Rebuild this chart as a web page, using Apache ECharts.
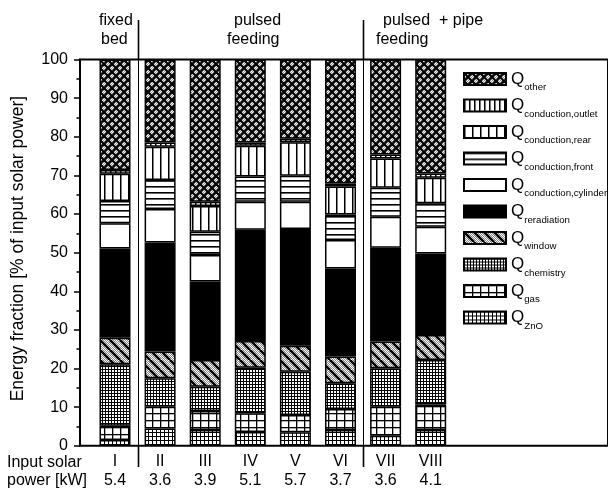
<!DOCTYPE html>
<html><head><meta charset="utf-8">
<script src="https://cdn.jsdelivr.net/npm/echarts@6/dist/echarts.min.js"></script>
<style>html,body{margin:0;padding:0;background:#fff}#c{width:608px;height:490px}</style>
</head><body><div id="c"></div><script>
// ---- data ----
const runs = ['I','II','III','IV','V','VI','VII','VIII'];
const solarPower = ['5.4','3.6','3.9','5.1','5.7','3.7','3.6','4.1'];
const seriesNames = ['ZnO','gas','chemistry','window','reradiation','conduction,cylinder','conduction,front','conduction,rear','conduction,outlet','other'];
const qZnO          = [1.5, 4.5, 4.1, 3.6, 3.5, 4.1, 2.6, 4.1];
const qGas          = [3.7, 5.6, 4.9, 4.8, 4.5, 5.4, 7.5, 6.6];
const qChemistry    = [15.9, 7.4, 6.3, 11.8, 11.2, 6.7, 10.0, 11.5];
const qWindow       = [6.9, 6.9, 6.9, 6.9, 6.7, 6.9, 6.9, 6.5];
const qReradiation  = [23.1, 28.2, 20.3, 28.8, 30.2, 22.8, 24.3, 21.1];
const qCondCylinder = [6.5, 8.7, 6.9, 7.3, 7.1, 7.4, 8.0, 6.9];
const qCondFront    = [5.8, 7.5, 6.0, 6.5, 6.7, 6.6, 7.5, 6.1];
const qCondRear     = [7.0, 8.6, 6.7, 8.0, 8.7, 7.2, 7.6, 6.6];
const qCondOutlet   = [1.0, 1.1, 1.1, 0.8, 0.9, 0.8, 1.0, 1.1];
const qOther        = [28.6, 21.5, 36.8, 21.5, 20.5, 32.1, 24.6, 29.5];
const seriesValues = [qZnO,qGas,qChemistry,qWindow,qReradiation,qCondCylinder,qCondFront,qCondRear,qCondOutlet,qOther];
const yMin = 0, yMax = 100, yStep = 10;
const groupBoundaries = [1, 6]; // first run index of a new group

// ---- patterns ----
function pat(w, h, draw) {
  const c = document.createElement('canvas');
  c.width = w; c.height = h;
  const g = c.getContext('2d');
  g.fillStyle = '#fff'; g.fillRect(0, 0, w, h);
  draw(g, w, h);
  return { image: c, repeat: 'repeat' };
}
function dots(g, w, h, a, b) {
  for (let x = 0; x < w; x++) for (let y = 0; y < h; y++) {
    g.fillStyle = ((x + y) % 2 === 0) ? a : b; g.fillRect(x, y, 1, 1);
  }
}
const patterns = [
  pat(4, 4, (g) => { g.fillStyle = '#000'; g.fillRect(0, 0, 4, 1); g.fillRect(0, 0, 1, 4); }),
  pat(8, 7, (g) => { g.fillStyle = '#000'; g.fillRect(0, 0, 8, 1.3); g.fillRect(0, 0, 1.3, 7); }),
  pat(3, 3, (g) => { g.fillStyle = '#000'; g.fillRect(0, 0, 3, 1); g.fillRect(0, 0, 1, 3); }),
  pat(10, 10, (g, w, h) => {
    dots(g, w, h, '#fff', '#888');
    g.strokeStyle = '#000'; g.lineWidth = 2.6;
    for (const o of [-10, 0, 10]) { g.beginPath(); g.moveTo(o, 0); g.lineTo(o + 10, 10); g.stroke(); }
  }),
  '#000',
  '#fff',
  pat(2, 6, (g) => { g.fillStyle = '#000'; g.fillRect(0, 0, 2, 1.6); }),
  pat(8, 2, (g) => { g.fillStyle = '#000'; g.fillRect(0, 0, 1.5, 2); }),
  pat(5, 2, (g) => { g.fillStyle = '#000'; g.fillRect(0, 0, 1.5, 2); }),
  pat(8, 8, (g, w, h) => {
    dots(g, w, h, '#fff', '#999');
    g.strokeStyle = '#000'; g.lineWidth = 2.2;
    for (const o of [-8, 0, 8]) {
      g.beginPath(); g.moveTo(o, 0); g.lineTo(o + 8, 8); g.stroke();
      g.beginPath(); g.moveTo(o + 8, 0); g.lineTo(o, 8); g.stroke();
    }
  })
];

const FONT = '"Liberation Sans", Arial, Helvetica, sans-serif';
const BAND = 45.1;
const GRID_TOP = 59.5, GRID_BOTTOM = 44.2;

const texts = [
  { type: 'text', left: 99, top: 13, style: { text: 'fixed', font: '16px ' + FONT, fill: '#000' } },
  { type: 'text', left: 101, top: 32, style: { text: 'bed', font: '16px ' + FONT, fill: '#000' } },
  { type: 'text', left: 234, top: 13, style: { text: 'pulsed', font: '16px ' + FONT, fill: '#000' } },
  { type: 'text', left: 227, top: 32, style: { text: 'feeding', font: '16px ' + FONT, fill: '#000' } },
  { type: 'text', left: 383, top: 13, style: { text: 'pulsed  + pipe', font: '16px ' + FONT, fill: '#000' } },
  { type: 'text', left: 376, top: 32, style: { text: 'feeding', font: '16px ' + FONT, fill: '#000' } },
  { type: 'text', left: 7, top: 455, style: { text: 'Input solar', font: '16px ' + FONT, fill: '#000' } },
  { type: 'text', left: 7, top: 473, style: { text: 'power [kW]', font: '16px ' + FONT, fill: '#000' } }
];

const chart = echarts.init(document.getElementById('c'), null, { renderer: 'canvas' });
const option = {
  animation: false,
  textStyle: { fontFamily: FONT, color: '#000' },
  grid: [
    { left: 80, right: -10, top: GRID_TOP, bottom: GRID_BOTTOM, show: true, borderColor: '#000', borderWidth: 2, backgroundColor: 'transparent' },
    { left: 92.45, width: BAND * runs.length, top: GRID_TOP, bottom: GRID_BOTTOM }
  ],
  xAxis: [
    { gridIndex: 0, type: 'value', min: 0, max: 1, show: false },
    { gridIndex: 1, type: 'category', data: runs, position: 'bottom',
      axisLine: { show: false }, axisTick: { show: false }, splitLine: { show: false },
      axisLabel: { margin: 7, interval: 0,
        formatter: (v, i) => '{r|' + v + '}\n{p|' + solarPower[i] + '}',
        rich: { r: { fontSize: 16, lineHeight: 18.5, fontFamily: FONT, color: '#000' },
                p: { fontSize: 16, lineHeight: 18.5, fontFamily: FONT, color: '#000' } } } }
  ],
  yAxis: [
    { gridIndex: 0, type: 'value', min: yMin, max: yMax, interval: yStep,
      name: 'Energy fraction [% of input solar power]', nameLocation: 'middle', nameGap: 53, nameRotate: 90,
      nameTextStyle: { fontSize: 17.5, fontFamily: FONT, color: '#000', padding: [0, 0, 0, 8] },
      axisLine: { show: true, lineStyle: { color: '#000', width: 2 } },
      axisTick: { show: true, inside: false, length: 6, lineStyle: { color: '#000', width: 1.5 } },
      minorTick: { show: true, splitNumber: 2, length: 3.5, lineStyle: { color: '#000', width: 1.5 } },
      axisLabel: { fontSize: 16, margin: 12, color: '#000', fontFamily: FONT },
      splitLine: { show: false } },
    { gridIndex: 1, type: 'value', min: yMin, max: yMax, show: false }
  ],
  legend: {
    orient: 'vertical', left: 463, top: 65.5, padding: 0, itemWidth: 42, itemHeight: 12, itemGap: -0.5,
    icon: 'rect', selectedMode: false,
    data: seriesNames.slice().reverse(),
    formatter: (n) => '{q|Q}{s|' + n + '}',
    textStyle: { rich: {
      q: { fontSize: 17, lineHeight: 19, fontFamily: FONT, color: '#000' },
      s: { fontSize: 9.7, lineHeight: 2, padding: [17, 0, 0, 0], fontFamily: FONT, color: '#000' } } }
  },
  graphic: texts,
  series: seriesNames.map((n, k) => ({
    name: n, type: 'bar', stack: 'total', xAxisIndex: 1, yAxisIndex: 1, barWidth: 31,
    data: seriesValues[k],
    itemStyle: { color: patterns[k], borderColor: '#000', borderWidth: 1.5 },
    emphasis: { disabled: true }
  }))
};
chart.setOption(option);

// group separators at category band boundaries (positions from the axis scale)
const px = (i) => chart.convertToPixel({ xAxisIndex: 1 }, runs[i]);
const half = (px(1) - px(0)) / 2;
const yTop = chart.convertToPixel({ yAxisIndex: 1 }, yMax);
const yBot = chart.convertToPixel({ yAxisIndex: 1 }, yMin);
const seps = [];
groupBoundaries.forEach((b) => {
  const x = Math.round(px(b) - half) + 0.5;
  seps.push({ type: 'line', shape: { x1: x, y1: 20, x2: x, y2: yTop }, style: { stroke: '#000', lineWidth: 1.6 } });
  seps.push({ type: 'line', shape: { x1: x, y1: yTop, x2: x, y2: yBot }, style: { stroke: '#000', lineWidth: 1 } });
  seps.push({ type: 'line', shape: { x1: x, y1: yBot, x2: x, y2: 467 }, style: { stroke: '#000', lineWidth: 1.6 } });
});
chart.setOption({ graphic: texts.concat(seps) });
</script></body></html>
